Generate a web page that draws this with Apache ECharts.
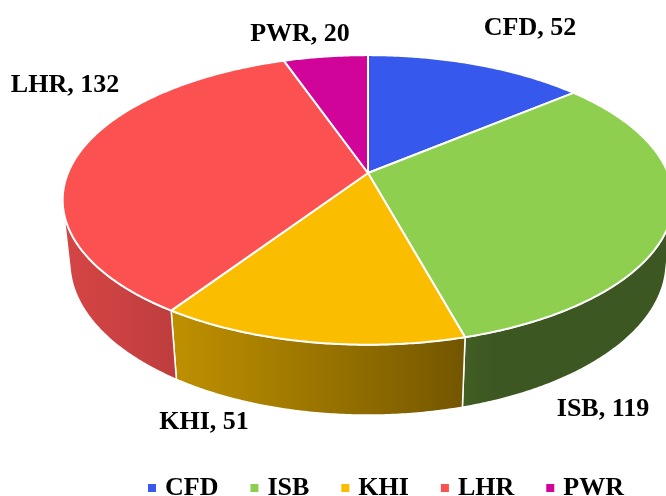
<!DOCTYPE html>
<html><head><meta charset="utf-8">
<script src="https://cdn.jsdelivr.net/npm/echarts@6/dist/echarts.min.js"></script>
<style>html,body{margin:0;padding:0;background:#fff}#chart{width:666px;height:496px}</style>
</head><body><div id="chart"></div>
<script>
// ---- data ----
const categories = ['CFD', 'ISB', 'KHI', 'LHR', 'PWR'];
const values = [52, 119, 51, 132, 20];

// ---- styling / layout (not data) ----
const sliceColors = ['#3758ED', '#8FCF50', '#FBBD00', '#FC5151', '#D1049A'];
const labelCenters = [[530, 28], [603, 409], [204, 422], [65, 85], [300, 34]];
const FONT = '"Liberation Serif", "Times New Roman", serif';

// perspective camera for the 3D pie
const CX = 368, CY = 173, FOCAL = 1428, DIST = 4.76, SIN = 0.466, COS = Math.sqrt(1 - SIN * SIN), DEPTH = 0.237;
const DEG = Math.PI / 180;
const VIS_HALF = Math.acos(1 / (DIST * COS));
const VIS0 = Math.PI - VIS_HALF, VIS1 = Math.PI + VIS_HALF;
const LIGHT = 250 * DEG;

function proj(theta, z) {
  const X = Math.sin(theta), Y = Math.cos(theta);
  const yc = Y * SIN + z * COS;
  const zc = DIST + Y * COS - z * SIN;
  return [CX + FOCAL * X / zc, CY - FOCAL * yc / zc];
}
function shade(hex, b) {
  const n = parseInt(hex.slice(1), 16);
  const r = Math.round(((n >> 16) & 255) * b), g = Math.round(((n >> 8) & 255) * b), bl = Math.round((n & 255) * b);
  return 'rgb(' + r + ',' + g + ',' + bl + ')';
}
function bright(theta) {
  return 0.42 + 0.42 * Math.max(0, Math.cos(theta - LIGHT));
}

const total = values.reduce((a, b) => a + b, 0);
const angles = [];
(function () {
  let acc = 0;
  values.forEach(v => {
    const a0 = acc / total * 2 * Math.PI;
    acc += v;
    angles.push([a0, acc / total * 2 * Math.PI]);
  });
})();

function makeRender(i) {
  return function (params, api) {
    const a0 = angles[i][0], a1 = angles[i][1];
    const color = sliceColors[i];
    const children = [];
    // outer wall (only the part facing the camera)
    const w0 = Math.max(a0, VIS0), w1 = Math.min(a1, VIS1);
    if (w1 > w0) {
      const n = Math.max(2, Math.ceil((w1 - w0) / (0.5 * DEG)));
      const pts = [];
      for (let k = 0; k <= n; k++) pts.push(proj(w0 + (w1 - w0) * k / n, 0));
      for (let k = n; k >= 0; k--) pts.push(proj(w0 + (w1 - w0) * k / n, -DEPTH));
      const xa = proj(w0, 0)[0], xb = proj(w1, 0)[0];
      const xmin = Math.min(xa, xb), xmax = Math.max(xa, xb);
      const stops = [];
      const m = 12;
      for (let k = 0; k <= m; k++) {
        const t = w0 + (w1 - w0) * k / m;
        const x = proj(t, 0)[0];
        stops.push({ offset: Math.min(1, Math.max(0, (x - xmin) / (xmax - xmin || 1))), color: shade(color, bright(t)) });
      }
      stops.sort((p, q) => p.offset - q.offset);
      children.push({
        type: 'polygon',
        shape: { points: pts },
        style: {
          fill: { type: 'linear', x: xmin, y: 0, x2: xmax, y2: 0, global: true, colorStops: stops },
          stroke: '#fff', lineWidth: 1.5, lineJoin: 'round'
        }
      });
    }
    // top face
    const tp = [[CX, CY]];
    const n2 = Math.max(2, Math.ceil((a1 - a0) / (0.5 * DEG)));
    for (let k = 0; k <= n2; k++) tp.push(proj(a0 + (a1 - a0) * k / n2, 0));
    children.push({
      type: 'polygon',
      shape: { points: tp },
      style: { fill: color, stroke: '#fff', lineWidth: 2, lineJoin: 'round' }
    });
    // data label
    children.push({
      type: 'text',
      style: {
        text: categories[i] + ', ' + values[i],
        x: labelCenters[i][0], y: labelCenters[i][1],
        align: 'center', verticalAlign: 'middle',
        fontFamily: FONT, fontWeight: 'bold', fontSize: 26, fill: '#000'
      }
    });
    return { type: 'group', children: children };
  };
}

const chart = echarts.init(document.getElementById('chart'), null, { renderer: 'canvas' });
chart.setOption({
  animation: false,
  backgroundColor: '#fff',
  legend: {
    data: categories,
    left: 143, top: 470,
    icon: 'rect', itemWidth: 8, itemHeight: 8, itemGap: 32,
    textStyle: { fontFamily: FONT, fontWeight: 'bold', fontSize: 26, color: '#000', padding: [0, 0, 0, 4] }
  },
  series: categories.map((name, i) => ({
    type: 'custom',
    name: name,
    coordinateSystem: 'none',
    itemStyle: { color: sliceColors[i] },
    data: [[values[i]]],
    renderItem: makeRender(i)
  }))
});
</script>
</body></html>
